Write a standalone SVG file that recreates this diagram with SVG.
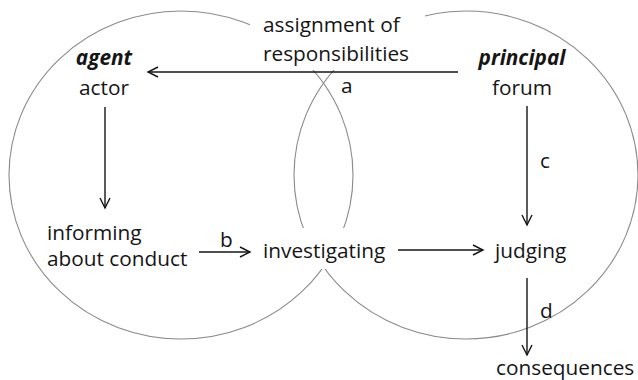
<svg xmlns="http://www.w3.org/2000/svg" width="638" height="380" viewBox="0 0 638 380">
  <style>
    .ring { fill: none; stroke: #8a8a8a; stroke-width: 1.1; }
    .gap { fill: #ffffff; stroke: none; }
    .lbl { font-family: "Open Sans", "Noto Sans", "Liberation Sans", sans-serif; font-size: 20.8px; fill: #151515; }
    .em { font-weight: bold; font-style: italic; }
    .edge { fill: none; stroke: #151515; stroke-width: 1.4; }
  </style>
  <defs>
    <marker id="head" markerUnits="userSpaceOnUse" markerWidth="14" markerHeight="14" viewBox="-12 -7 14 14" refX="0" refY="0" orient="auto">
      <path d="M-10,-5 L0,0 L-10,5" fill="none" stroke="#151515" stroke-width="1.4"/>
    </marker>
  </defs>

  <rect width="638" height="380" fill="#ffffff"/>

  <!-- the two overlapping domains -->
  <g id="domains">
    <ellipse class="ring" cx="181" cy="175" rx="172" ry="164"/>
    <ellipse class="ring" cx="466" cy="175" rx="172" ry="164"/>
    <!-- clear space under labels that sit on the rings -->
    <rect class="gap" x="250" y="0" width="175" height="70"/>
    <rect class="gap" x="258" y="228" width="134" height="41"/>
  </g>

  <!-- connectors -->
  <g id="connectors">
    <line class="edge" x1="458" y1="72" x2="148" y2="72" marker-end="url(#head)"/>
    <line class="edge" x1="105" y1="107" x2="105" y2="208" marker-end="url(#head)"/>
    <line class="edge" x1="199" y1="252" x2="250" y2="252" marker-end="url(#head)"/>
    <line class="edge" x1="398" y1="250" x2="483" y2="250" marker-end="url(#head)"/>
    <line class="edge" x1="527" y1="106" x2="527" y2="225" marker-end="url(#head)"/>
    <line class="edge" x1="527" y1="278" x2="527" y2="355" marker-end="url(#head)"/>
    <text class="lbl" x="341" y="93">a</text>
    <text class="lbl" x="220" y="247">b</text>
    <text class="lbl" x="540" y="168">c</text>
    <text class="lbl" x="540" y="318">d</text>
  </g>

  <g id="assignment">
    <text class="lbl" x="263" y="32">assignment of</text>
    <text class="lbl" x="263" y="61">responsibilities</text>
  </g>

  <g id="agent">
    <text class="lbl em" x="104" y="65" text-anchor="middle">agent</text>
    <text class="lbl" x="104" y="95" text-anchor="middle">actor</text>
  </g>

  <g id="principal">
    <text class="lbl em" x="522" y="65" text-anchor="middle">principal</text>
    <text class="lbl" x="522" y="95" text-anchor="middle">forum</text>
  </g>

  <g id="informing">
    <text class="lbl" x="47" y="240">informing</text>
    <text class="lbl" x="47" y="266">about conduct</text>
  </g>

  <g id="investigating">
    <text class="lbl" x="263" y="258">investigating</text>
  </g>

  <g id="judging">
    <text class="lbl" x="495" y="258">judging</text>
  </g>

  <g id="consequences">
    <text class="lbl" x="496" y="375">consequences</text>
  </g>
</svg>
